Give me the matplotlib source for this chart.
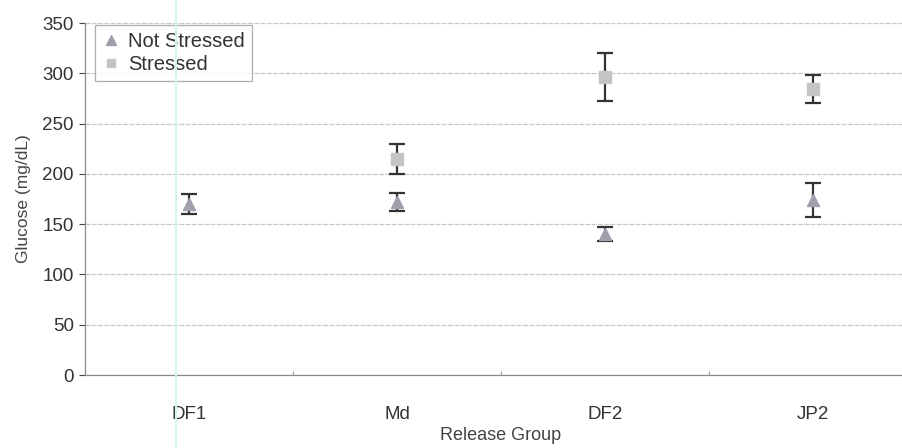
import numpy as np
import matplotlib.pyplot as plt
from matplotlib.lines import Line2D

# data
groups = ['DF1', 'Md', 'DF2', 'JP2']
not_stressed = [170, 172, 140, 174]
not_stressed_err = [10, 9, 7, 17]
stressed = [np.nan, 215, 296, 284]
stressed_err = [np.nan, 15, 24, 14]
yticks = [0, 50, 100, 150, 200, 250, 300, 350]

plt.rcParams['font.family'] = ['Liberation Sans', 'DejaVu Sans']

fig = plt.figure(figsize=(9.03, 4.48), dpi=100)
ax = fig.add_axes([85 / 903, 73 / 448, 832 / 903, 352 / 448])

x = np.arange(len(groups))

# grid lines
for v in yticks:
    ax.axhline(v, color='#c8c8c8', lw=0.9, ls=(0, (4, 1)), zorder=0)

ax.errorbar(x, not_stressed, yerr=not_stressed_err, fmt='^', ms=8,
            mfc='#a19fae', mec='#a19fae', ecolor='#333333', elinewidth=1.6,
            capsize=6, capthick=1.6, label='Not Stressed', zorder=3)
ax.errorbar(x, stressed, yerr=stressed_err, fmt='s', ms=8,
            mfc='#c4c4c6', mec='#c4c4c6', ecolor='#333333', elinewidth=1.6,
            capsize=6, capthick=1.6, label='Stressed', zorder=3)

ax.set_xlim(-0.5, len(groups) - 0.5)
ax.set_ylim(0, 350)
ax.set_yticks(yticks)
ax.set_xticks(x)
ax.set_xticklabels(groups)
ax.set_xticks(np.arange(len(groups) + 1) - 0.5, minor=True)

ax.tick_params(axis='y', labelsize=13.5, colors='#444444', length=4,
               width=0.8, pad=4, labelcolor='#333333')
ax.tick_params(axis='x', which='major', length=0, labelsize=13.5,
               pad=22, labelcolor='#333333')
ax.tick_params(axis='x', which='minor', direction='in', length=3,
               color='#888888')

for s in ['top', 'right']:
    ax.spines[s].set_visible(False)
for s in ['left', 'bottom']:
    ax.spines[s].set_color('#8a8a8a')
    ax.spines[s].set_linewidth(0.9)

ax.set_ylabel('Glucose (mg/dL)', fontsize=12.5, color='#444444', labelpad=8)
ax.set_xlabel('Release Group', fontsize=13, color='#444444', labelpad=3)

handles = [Line2D([], [], marker='^', ls='none', ms=7, mfc='#a19fae', mec='#a19fae'),
           Line2D([], [], marker='s', ls='none', ms=6, mfc='#c4c4c6', mec='#c4c4c6')]
leg = ax.legend(handles, ['Not Stressed', 'Stressed'], loc='upper left',
                bbox_to_anchor=(0.012, 0.995), fontsize=14.5, frameon=True,
                fancybox=False, edgecolor='#999999', handlelength=0.9,
                handletextpad=0.4, borderpad=0.35, labelspacing=0.2,
                borderaxespad=0)
leg.get_frame().set_linewidth(0.9)
for t in leg.get_texts():
    t.set_color('#333333')

# faint scan line
fig.add_artist(Line2D([176 / 903, 176 / 903], [0, 1], color='#d4f4f4', lw=1.5))

fig.savefig('out.png', dpi=100)
